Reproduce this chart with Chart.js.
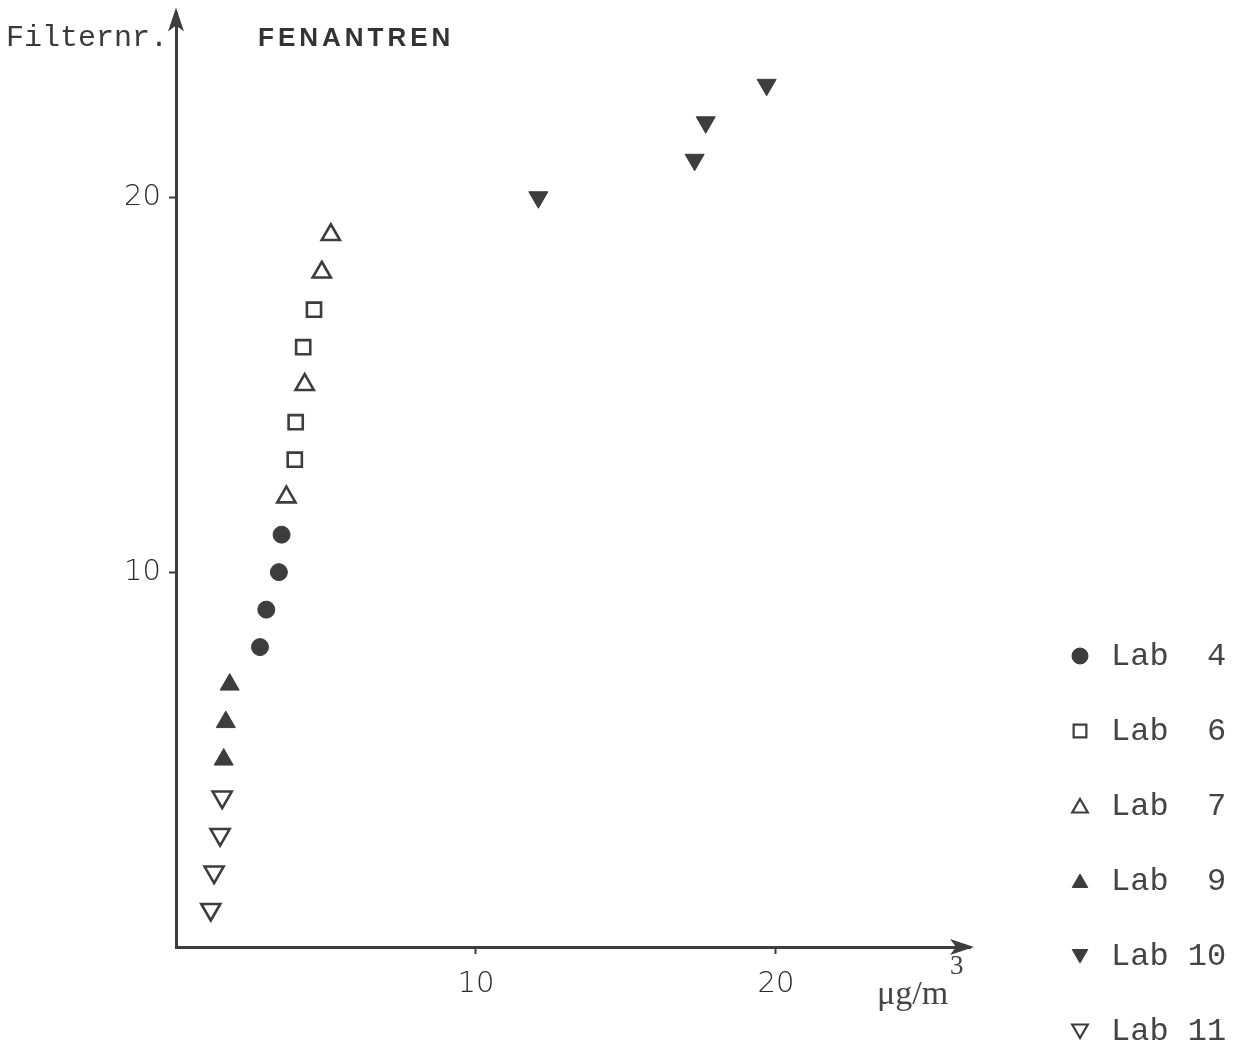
<!DOCTYPE html>
<html>
<head>
<meta charset="utf-8">
<title>FENANTREN</title>
<script src="https://cdn.jsdelivr.net/npm/chart.js@4"></script>
<style>
  html, body { margin: 0; padding: 0; background: #fff; }
  #wrap { width: 1239px; height: 1051px; }
</style>
</head>
<body>
<div id="wrap"><canvas id="fenChart"></canvas></div>
<script>
// filter number (y) and concentration in ug/m3 (x), per lab
const lab4Filter = [8, 9, 10, 11];
const lab4Conc = [2.80, 3.01, 3.43, 3.52];

const lab6Filter = [13, 14, 16, 17];
const lab6Conc = [3.96, 3.99, 4.24, 4.60];

const lab7Filter = [12, 15, 18, 19];
const lab7Conc = [3.68, 4.29, 4.86, 5.16];

const lab9Filter = [5, 6, 7];
const lab9Conc = [1.59, 1.66, 1.79];

const lab10Filter = [20, 21, 22, 23];
const lab10Conc = [12.08, 17.29, 17.66, 19.69];

const lab11Filter = [1, 2, 3, 4];
const lab11Conc = [1.16, 1.27, 1.47, 1.54];

const labNames = ["Lab  4", "Lab  6", "Lab  7", "Lab  9", "Lab 10", "Lab 11"];
const xTicks = [10, 20];
const yTicks = [10, 20];

const INK = "#3d3d3d";
const TICK_FONT = { family: "'DejaVu Sans', 'Liberation Sans', sans-serif", size: 29, weight: 200 };

function pts(xs, ys) {
    return xs.map((x, i) => ({ x: x, y: ys[i] }));
}

function series(label, xs, ys, style, rot, r, open) {
    return {
        label: label,
        data: pts(xs, ys),
        pointStyle: style,
        rotation: rot,
        radius: r,
        hoverRadius: r,
        backgroundColor: open ? "#ffffff" : INK,
        borderColor: INK,
        borderWidth: open ? 2.6 : 1,
        showLine: false
    };
}

// axis arrows, titles and the legend column on the right
const decorations = {
    id: "decorations",
    afterDraw(chart) {
        const c = chart.ctx;
        const a = chart.chartArea;
        c.save();

        // arrow heads
        c.fillStyle = INK;
        c.beginPath();
        c.moveTo(a.left, a.top - 6);
        c.lineTo(a.left - 8, a.top + 18);
        c.lineTo(a.left, a.top + 12);
        c.lineTo(a.left + 8, a.top + 18);
        c.closePath();
        c.fill();

        c.beginPath();
        c.moveTo(a.right + 4, a.bottom);
        c.lineTo(a.right - 20, a.bottom - 8);
        c.lineTo(a.right - 14, a.bottom);
        c.lineTo(a.right - 20, a.bottom + 8);
        c.closePath();
        c.fill();

        // axis titles
        c.fillStyle = "#3a3a3a";
        c.textBaseline = "alphabetic";
        c.textAlign = "left";
        c.font = "30px 'Liberation Mono', 'DejaVu Sans Mono', monospace";
        c.fillText("Filternr.", 6, 46);

        c.fillStyle = "#333";
        c.font = "bold 26px 'Liberation Sans', Arial, sans-serif";
        c.letterSpacing = "4px";
        c.fillText("FENANTREN", 258, 46);
        c.letterSpacing = "0px";

        c.fillStyle = "#444";
        c.font = "34px 'Liberation Serif', 'DejaVu Serif', serif";
        c.fillText("\u03bcg/m", 877, 1004);
        c.font = "27px 'Liberation Serif', 'DejaVu Serif', serif";
        c.fillText("3", 950, 974);

        // legend
        c.font = "32px 'Liberation Mono', 'DejaVu Sans Mono', monospace";
        c.textBaseline = "middle";
        chart.data.datasets.forEach((ds, i) => {
            const y = 656 + i * 75;
            const open = ds.backgroundColor !== INK;
            c.fillStyle = ds.backgroundColor;
            c.strokeStyle = INK;
            c.lineWidth = open ? 2.2 : 1;
            Chart.helpers.drawPoint(c, {
                pointStyle: ds.pointStyle,
                rotation: ds.rotation,
                radius: ds.pointStyle === "circle" ? 8 : 9,
                borderWidth: c.lineWidth
            }, 1080, y + (ds.pointStyle === "triangle" ? (ds.rotation ? -2 : 2) : 0));
            c.fillStyle = "#444";
            c.fillText(labNames[i], 1111, y + 1);
        });
        c.restore();
    }
};

const tickGrid = {
    display: true,
    drawOnChartArea: false,
    drawTicks: true,
    tickLength: 7,
    tickWidth: 2,
    color: (ctx) => (ctx.tick && ctx.tick.value === 0 ? "rgba(0,0,0,0)" : INK)
};

const fenChart = new Chart(document.getElementById("fenChart"), {
    type: "scatter",
    data: {
        datasets: [
            series(labNames[0], lab4Conc, lab4Filter, "circle", 0, 8.5, false),
            series(labNames[1], lab6Conc, lab6Filter, "rect", 0, 10, true),
            series(labNames[2], lab7Conc, lab7Filter, "triangle", 0, 10.5, true),
            series(labNames[3], lab9Conc, lab9Filter, "triangle", 0, 11, false),
            series(labNames[4], lab10Conc, lab10Filter, "triangle", 180, 11, false),
            series(labNames[5], lab11Conc, lab11Filter, "triangle", 180, 11, true)
        ]
    },
    options: {
        responsive: true,
        maintainAspectRatio: false,
        animation: false,
        layout: {
            padding: { left: 0, top: 5, right: 269, bottom: 0 }
        },
        plugins: {
            legend: { display: false },
            tooltip: { enabled: false }
        },
        scales: {
            x: {
                type: "linear",
                min: 0,
                max: 26.47,
                afterFit(scale) {
                    scale.height = 104;
                    scale.paddingLeft = 0;
                    scale.paddingRight = 0;
                },
                afterBuildTicks(scale) {
                    scale.ticks = xTicks.map(v => ({ value: v }));
                },
                border: { display: true, color: INK, width: 3 },
                grid: tickGrid,
                ticks: { color: "#2a2a2a", padding: 13, font: TICK_FONT }
            },
            y: {
                type: "linear",
                min: 0,
                max: 24.9,
                afterFit(scale) {
                    scale.width = 176;
                    scale.paddingTop = 0;
                    scale.paddingBottom = 0;
                },
                afterBuildTicks(scale) {
                    scale.ticks = yTicks.map(v => ({ value: v }));
                },
                border: { display: true, color: INK, width: 3 },
                grid: tickGrid,
                ticks: { color: "#2a2a2a", padding: 8, font: TICK_FONT }
            }
        }
    },
    plugins: [decorations]
});
</script>
</body>
</html>
